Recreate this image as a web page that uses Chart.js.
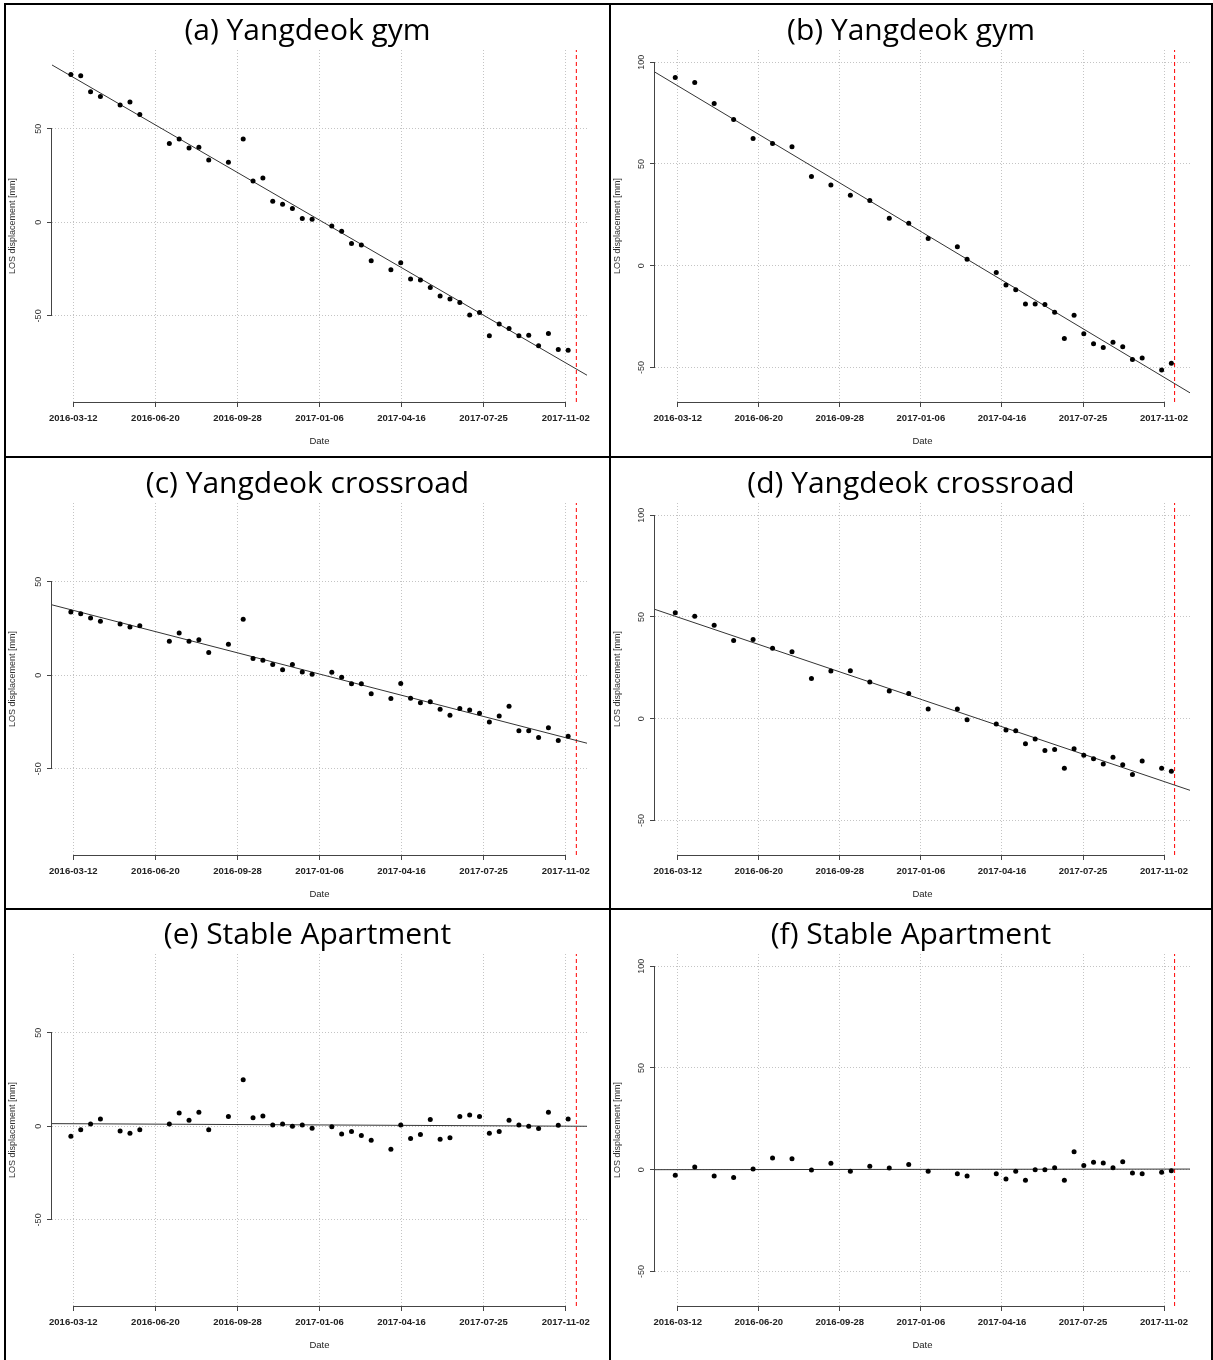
<!DOCTYPE html>
<html>
<head>
<meta charset="utf-8">
<script src="https://cdn.jsdelivr.net/npm/chart.js@4.4.0/dist/chart.umd.min.js"></script>
<style>
  body { margin: 0; background: #fff; }
  #page { position: relative; width: 1213px; height: 1360px; overflow: hidden; background: #fff; }
  .cell { position: absolute; border: 2px solid #000; box-sizing: border-box; z-index: 2; }
  canvas { position: absolute; }
</style>
</head>
<body>
<div id="page"></div>
<script>
// x values are days since 2016-03-12
const tickDays = [0, 100, 200, 300, 400, 500, 600];
const tickLabels = ['2016-03-12', '2016-06-20', '2016-09-28', '2017-01-06', '2017-04-16', '2017-07-25', '2017-11-02'];
const eventDay = 613;

// acquisition dates of the left (a, c, e) and right (b, d, f) plots
const datesLeft = [-3, 9, 21, 33, 57, 69, 81, 117, 129, 141, 153, 165, 189, 207, 219, 231, 243, 255, 267, 279, 291,
  315, 327, 339, 351, 363, 387, 399, 411, 423, 435, 447, 459, 471, 483, 495, 507, 519, 531, 543, 555, 567, 579, 591, 603];
const datesRight = [-3, 21, 45, 69, 93, 117, 141, 165, 189, 213, 237, 261, 285, 309, 345, 357, 393, 405, 417, 429, 441,
  453, 465, 477, 489, 501, 513, 525, 537, 549, 561, 573, 597, 609];

// LOS displacement [mm]
const dispA = [78.9, 78.2, 69.7, 67.2, 62.6, 64.2, 57.6, 42.0, 44.5, 39.7, 40.1, 33.3, 32.1, 44.5, 22.0, 23.6, 11.2, 9.6, 7.4, 2.0, 1.6,
  -2.0, -4.8, -11.3, -12.2, -20.6, -25.4, -21.6, -30.3, -30.9, -34.9, -39.4, -41.0, -42.9, -49.5, -48.2, -60.6, -54.3, -56.7, -60.6, -60.3, -66.0, -59.4, -67.9, -68.3];
const dispB = [92.5, 90.0, 79.7, 71.9, 62.5, 60.1, 58.5, 43.8, 39.7, 34.6, 32.0, 23.3, 20.9, 13.4, 9.3, 3.1, -3.4, -9.5, -11.8, -18.8, -18.8,
  -19.1, -22.9, -35.8, -24.4, -33.5, -38.4, -40.2, -37.6, -39.9, -46.1, -45.4, -51.3, -48.0];
const dispC = [33.8, 32.9, 30.6, 28.8, 27.4, 25.8, 26.5, 18.2, 22.6, 18.2, 18.9, 12.1, 16.6, 29.9, 8.9, 8.0, 5.7, 2.9, 5.7, 1.8, 0.5,
  1.6, -1.1, -4.6, -4.6, -9.9, -12.4, -4.4, -12.3, -14.7, -14.2, -18.1, -21.4, -17.8, -18.5, -20.3, -24.9, -21.7, -16.6, -29.7, -29.7, -33.3, -28.1, -34.9, -32.6];
const dispD = [52.0, 50.3, 45.9, 38.4, 38.9, 34.6, 32.9, 19.8, 23.4, 23.6, 18.0, 13.6, 12.4, 4.7, 4.7, -0.5, -2.6, -5.6, -5.9, -12.3, -10.0,
  -15.6, -15.1, -24.4, -14.8, -18.0, -19.7, -22.3, -18.9, -22.6, -27.4, -20.8, -24.4, -25.9];
const dispE = [-5.3, -1.8, 1.2, 3.9, -2.5, -3.7, -1.8, 1.2, 7.1, 3.2, 7.5, -1.8, 5.2, 24.9, 4.6, 5.5, 0.7, 1.2, 0.0, 0.7, -1.1,
  -0.2, -4.1, -2.8, -5.0, -7.5, -12.3, 0.7, -6.6, -4.4, 3.6, -6.9, -6.2, 5.2, 6.0, 5.2, -3.7, -2.8, 3.2, 0.7, 0.0, -1.2, 7.5, 0.5, 3.9];
const dispF = [-2.8, 1.3, -3.1, -3.9, 0.3, 5.7, 5.4, -0.2, 3.1, -0.8, 1.7, 0.8, 2.5, -0.8, -2.0, -3.1, -2.0, -4.6, -0.8, -5.2, 0.0,
  0.0, 1.0, -5.2, 8.8, 2.1, 3.6, 3.3, 1.0, 3.9, -1.6, -2.0, -1.3, -0.5];

// fitted trend line, value at the left and right end of the plot
const fitDaysLeft = [-26, 626];
const fitDaysRight = [-28, 632];
const fitA = [84.0, -81.7];
const fitB = [95.1, -62.5];
const fitC = [37.6, -36.3];
const fitD = [53.7, -35.2];
const fitE = [1.4, 0.0];
const fitF = [0.0, 0.3];

const xRangeLeft = [-26, 626];
const xRangeRight = [-28, 632];
const yRangeLeft = [-96, 92];
const yRangeRight = [-67, 106];
const yTicksLeft = [-50, 0, 50];
const yTicksRight = [-50, 0, 50, 100];

const panels = [
  { title: '(a) Yangdeok gym', x: 6, y: 5, w: 603, dates: datesLeft, disp: dispA, fit: fitA, fitDays: fitDaysLeft, xr: xRangeLeft, yr: yRangeLeft, yt: yTicksLeft, yw: 46, pr: 22 },
  { title: '(b) Yangdeok gym', x: 611, y: 5, w: 600, dates: datesRight, disp: dispB, fit: fitB, fitDays: fitDaysRight, xr: xRangeRight, yr: yRangeRight, yt: yTicksRight, yw: 44, pr: 21 },
  { title: '(c) Yangdeok crossroad', x: 6, y: 458, w: 603, dates: datesLeft, disp: dispC, fit: fitC, fitDays: fitDaysLeft, xr: xRangeLeft, yr: yRangeLeft, yt: yTicksLeft, yw: 46, pr: 22 },
  { title: '(d) Yangdeok crossroad', x: 611, y: 458, w: 600, dates: datesRight, disp: dispD, fit: fitD, fitDays: fitDaysRight, xr: xRangeRight, yr: yRangeRight, yt: yTicksRight, yw: 44, pr: 21 },
  { title: '(e) Stable Apartment', x: 6, y: 909, w: 603, dates: datesLeft, disp: dispE, fit: fitE, fitDays: fitDaysLeft, xr: xRangeLeft, yr: yRangeLeft, yt: yTicksLeft, yw: 46, pr: 22 },
  { title: '(f) Stable Apartment', x: 611, y: 909, w: 600, dates: datesRight, disp: dispF, fit: fitF, fitDays: fitDaysRight, xr: xRangeRight, yr: yRangeRight, yt: yTicksRight, yw: 44, pr: 21 }
];

const cells = [[4, 3, 607, 455], [609, 3, 604, 455], [4, 456, 607, 454], [609, 456, 604, 454], [4, 908, 607, 454], [609, 908, 604, 454]];

// R style axes: lines only between first and last tick, rotated y labels
const rAxes = {
  id: 'rAxes',
  afterDraw(chart, args, opts) {
    const { ctx, chartArea: ca, scales: { x, y } } = chart;
    const yt = opts.ticks;
    ctx.save();
    ctx.strokeStyle = '#444';
    ctx.lineWidth = 1;
    ctx.beginPath();
    ctx.moveTo(x.getPixelForValue(tickDays[0]), ca.bottom + 0.5);
    ctx.lineTo(x.getPixelForValue(tickDays[tickDays.length - 1]), ca.bottom + 0.5);
    ctx.moveTo(ca.left - 0.5, y.getPixelForValue(yt[0]));
    ctx.lineTo(ca.left - 0.5, y.getPixelForValue(yt[yt.length - 1]));
    ctx.stroke();
    ctx.fillStyle = '#333';
    ctx.font = '9px "Liberation Sans", Arial, sans-serif';
    ctx.textAlign = 'center';
    ctx.textBaseline = 'middle';
    yt.forEach(v => {
      ctx.save();
      ctx.translate(ca.left - 13, y.getPixelForValue(v));
      ctx.rotate(-Math.PI / 2);
      ctx.fillText(String(v), 0, 0);
      ctx.restore();
    });
    ctx.restore();
  }
};

const page = document.getElementById('page');
cells.forEach(c => {
  const d = document.createElement('div');
  d.className = 'cell';
  d.style.left = c[0] + 'px';
  d.style.top = c[1] + 'px';
  d.style.width = c[2] + 'px';
  d.style.height = c[3] + 'px';
  page.appendChild(d);
});

panels.forEach(p => {
  const canvas = document.createElement('canvas');
  canvas.width = p.w;
  canvas.height = 452;
  canvas.style.left = p.x + 'px';
  canvas.style.top = p.y + 'px';
  canvas.style.width = p.w + 'px';
  canvas.style.height = '452px';
  page.appendChild(canvas);

  const gridLines = {
    color: '#c4c4c4', lineWidth: 1, drawTicks: true, tickLength: 5,
    tickColor: '#444', tickWidth: 1, tickBorderDash: []
  };

  new Chart(canvas.getContext('2d'), {
    data: {
      datasets: [
        {
          type: 'scatter',
          data: p.dates.map((d, i) => ({ x: d, y: p.disp[i] })),
          pointRadius: 2.5,
          pointBackgroundColor: '#000',
          pointBorderWidth: 0
        },
        {
          type: 'line',
          data: p.fitDays.map((d, i) => ({ x: d, y: p.fit[i] })),
          borderColor: '#333',
          borderWidth: 1,
          pointRadius: 0
        },
        {
          type: 'line',
          data: [{ x: eventDay, y: p.yr[0] }, { x: eventDay, y: p.yr[1] }],
          borderColor: '#ff0000',
          borderWidth: 1,
          borderDash: [4, 3],
          pointRadius: 0
        }
      ]
    },
    options: {
      responsive: false,
      animation: false,
      layout: { padding: 0 },
      plugins: {
        legend: { display: false },
        tooltip: { enabled: false },
        title: {
          display: true,
          text: p.title,
          color: '#000',
          font: { family: '"Open Sans", "Noto Sans", sans-serif', size: 30, weight: 'normal', lineHeight: 1.2 },
          padding: { top: 8, bottom: 1 }
        },
        rAxes: { ticks: p.yt }
      },
      scales: {
        x: {
          type: 'linear',
          min: p.xr[0],
          max: p.xr[1],
          afterBuildTicks: s => { s.ticks = tickDays.map(v => ({ value: v })); },
          afterFit: s => { s.height = 55; s.paddingLeft = 0; s.paddingRight = 0; },
          grid: gridLines,
          border: { display: false, dash: [1, 2] },
          ticks: {
            autoSkip: false, maxRotation: 0, padding: 6, color: '#222',
            font: { family: '"Liberation Sans", Arial, sans-serif', size: 9.5, weight: 'bold' },
            callback: (v, i) => tickLabels[i]
          },
          title: {
            display: true, text: 'Date', color: '#222',
            font: { family: '"Liberation Sans", Arial, sans-serif', size: 9.5 },
            padding: { top: 0, bottom: 10 }
          }
        },
        y: {
          type: 'linear',
          min: p.yr[0],
          max: p.yr[1],
          afterBuildTicks: s => { s.ticks = p.yt.map(v => ({ value: v })); },
          afterFit: s => { s.width = p.yw; },
          grid: gridLines,
          border: { display: false, dash: [1, 2] },
          ticks: { display: false },
          title: {
            display: true, text: 'LOS displacement [mm]', color: '#333',
            font: { family: '"Liberation Sans", Arial, sans-serif', size: 9 },
            padding: { top: 1, bottom: 0 }
          }
        },
        // empty right margin so the title stays centred on the whole panel
        margin: {
          type: 'linear',
          position: 'right',
          min: p.yr[0],
          max: p.yr[1],
          grid: { display: false },
          border: { display: false },
          ticks: { display: false },
          afterFit: s => { s.width = p.pr; }
        }
      }
    },
    plugins: [rAxes]
  });
});
</script>
</body>
</html>
